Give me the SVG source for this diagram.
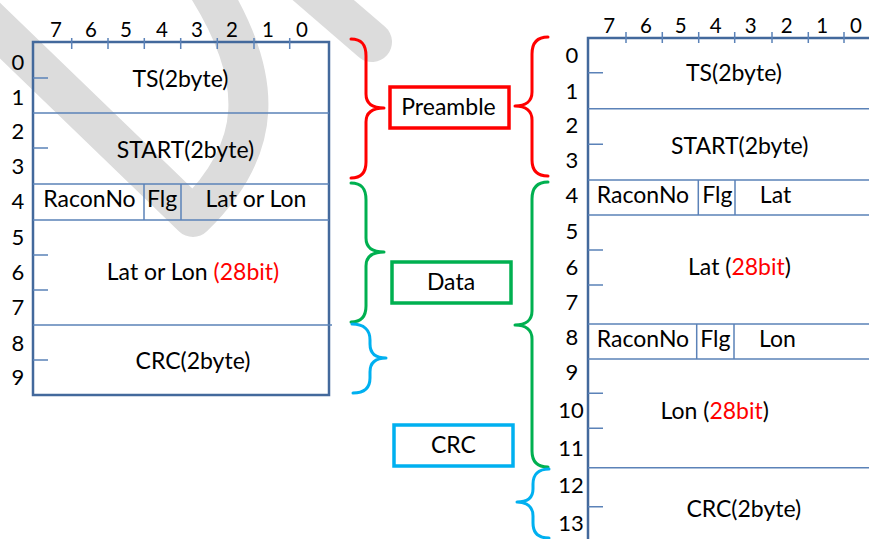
<svg xmlns="http://www.w3.org/2000/svg" width="869" height="539" viewBox="0 0 869 539">
<style>
text{font-family:Lato,"Liberation Sans",sans-serif;fill:#000;}
.num{font-size:20.5px;text-anchor:middle;}
.row{font-size:22px;text-anchor:middle;}
.lbl{font-size:23px;text-anchor:middle;}
.red{fill:#ff0000;}
.frame{fill:none;stroke:#43699c;stroke-width:2.5;}
.ln{fill:none;stroke:#5b82b8;stroke-width:1.5;}
.wm{fill:none;stroke:#dcdcdc;stroke-width:40;stroke-linecap:round;stroke-linejoin:round;}
.br{fill:none;stroke-width:3;stroke-linecap:round;stroke-linejoin:round;}
.box{fill:#fff;stroke-width:3.5;}
</style>
<rect width="869" height="539" fill="#fff"/>
<g id="watermark">
<path class="wm" d="M -40,-8 L 193,217 C 262,150 268,80 203,-20"/>
<path class="wm" d="M 300,-20 L 372,42"/>
</g>
<g id="left-table">
<rect class="frame" x="33" y="42" width="296" height="353"/>
<path class="ln" d="M33,113H329M33,184H329M33,220H329M33,325H332M144,184V220M181,184V220"/>
<path class="ln" d="M71.7,38V49M108,38V49M144.3,38V49M180.7,38V49M217.3,38V49M254,38V49M289.7,38V49"/>
<path class="ln" d="M33,78H48M33,148H48M33,255H48M33,290H48M33,360H48"/>
<text class="num" x="56" y="37">7</text><text class="num" x="91" y="37">6</text><text class="num" x="126" y="37">5</text><text class="num" x="162" y="37">4</text><text class="num" x="197" y="37">3</text><text class="num" x="232" y="37">2</text><text class="num" x="268" y="37">1</text><text class="num" x="302" y="37">0</text>
<text class="row" x="18" y="70">0</text><text class="row" x="18" y="105">1</text><text class="row" x="18" y="139">2</text><text class="row" x="18" y="174">3</text><text class="row" x="18" y="209">4</text><text class="row" x="18" y="245">5</text><text class="row" x="18" y="280">6</text><text class="row" x="18" y="315">7</text><text class="row" x="18" y="351">8</text><text class="row" x="18" y="385">9</text>
<text class="lbl" x="180.5" y="87">TS(2byte)</text>
<text class="lbl" x="185.5" y="158">START(2byte)</text>
<text class="lbl" x="89.5" y="207">RaconNo</text>
<text class="lbl" x="162" y="207">Flg</text>
<text class="lbl" x="256" y="207">Lat or Lon</text>
<text class="lbl" x="193" y="280">Lat or Lon <tspan class="red">(28bit)</tspan></text>
<text class="lbl" x="193" y="369">CRC(2byte)</text>
</g>
<g id="right-table">
<path class="frame" d="M588,539V38H869"/>
<path class="ln" d="M588,108.7H869M588,180H869M588,215H869M588,324H869M588,359H869M588,467.7H869M698.3,180V215M735,180V215M696.7,324V359M734,324V359"/>
<path class="ln" d="M626,32V43M662.3,32V43M698.7,32V43M734.7,32V43M772,32V43M808.3,32V43M844,32V43"/>
<path class="ln" d="M588,72.7H603M588,144.3H603M588,250H603M588,285H603M588,393.3H603M588,428.3H603M588,506.7H603"/>
<text class="num" x="609.3" y="33">7</text><text class="num" x="646" y="33">6</text><text class="num" x="680.7" y="33">5</text><text class="num" x="715.7" y="33">4</text><text class="num" x="750.7" y="33">3</text><text class="num" x="786.7" y="33">2</text><text class="num" x="822.3" y="33">1</text><text class="num" x="856" y="33">0</text>
<text class="row" x="572" y="63">0</text><text class="row" x="572" y="99">1</text><text class="row" x="572" y="133">2</text><text class="row" x="572" y="168">3</text><text class="row" x="572" y="203">4</text><text class="row" x="572" y="239">5</text><text class="row" x="572" y="275">6</text><text class="row" x="572" y="310">7</text><text class="row" x="572" y="345">8</text><text class="row" x="572" y="380">9</text><text class="row" x="571" y="418">10</text><text class="row" x="571" y="456">11</text><text class="row" x="571" y="493">12</text><text class="row" x="571" y="531">13</text>
<text class="lbl" x="734" y="81">TS(2byte)</text>
<text class="lbl" x="739.7" y="154">START(2byte)</text>
<text class="lbl" x="643" y="203">RaconNo</text>
<text class="lbl" x="717.3" y="203">Flg</text>
<text class="lbl" x="775.5" y="203">Lat</text>
<text class="lbl" x="739.5" y="275">Lat (<tspan class="red">28bit</tspan>)</text>
<text class="lbl" x="643" y="347">RaconNo</text>
<text class="lbl" x="715.3" y="347">Flg</text>
<text class="lbl" x="777.5" y="347">Lon</text>
<text class="lbl" x="714.7" y="419">Lon (<tspan class="red">28bit</tspan>)</text>
<text class="lbl" x="743.8" y="517">CRC(2byte)</text>
</g>
<g id="connectors">
<path class="br" stroke="#ff0000" d="M351,39C362,39 366,45 366,56V94C366,103 372,108 384,108C372,108 366,113 366,122V162C366,172 362,178 351,178"/>
<path class="br" stroke="#00b050" d="M351,183C362,183 366,189 366,200V238C366,247 372,252 384,252C372,252 366,257 366,266V306C366,316 362,322 351,322"/>
<path class="br" stroke="#00b0f0" d="M352,324C364,324 370,330 370,340V344C370,353 375,358 386,358C375,358 370,363 370,372V378C370,388 364,393 353,393"/>
<path class="br" stroke="#ff0000" d="M548,37C537,37 532,43 532,54V92C532,101 526,106 515,106C526,106 532,111 532,120V160C532,170 537,176 548,176"/>
<path class="br" stroke="#00b050" d="M548,182C537,182 532,188 532,199V311C532,320 526,325 515,325C526,325 532,330 532,339V451C532,461 537,467 548,467"/>
<path class="br" stroke="#00b0f0" d="M549,469C538,469 533,475 533,484V489C533,498 527,502 517,502C527,502 533,507 533,516V523C533,533 538,538 549,538"/>
</g>
<g id="preamble">
<rect class="box" stroke="#ff0000" x="390" y="87" width="119" height="41"/>
<text class="lbl" x="448.5" y="115">Preamble</text>
</g>
<g id="data">
<rect class="box" stroke="#00b050" x="392" y="262" width="119" height="41"/>
<text class="lbl" x="451" y="290">Data</text>
</g>
<g id="crc">
<rect class="box" stroke="#00b0f0" x="394" y="425" width="119" height="41"/>
<text class="lbl" x="453.5" y="453">CRC</text>
</g>
</svg>
